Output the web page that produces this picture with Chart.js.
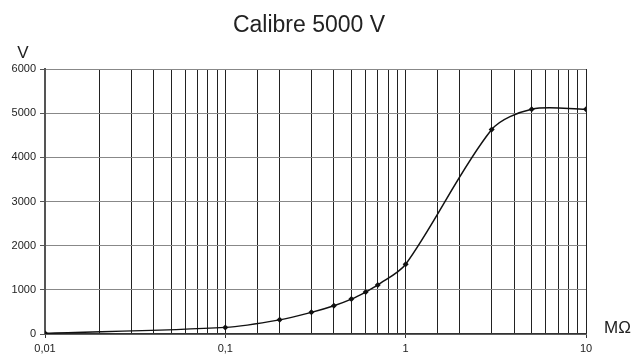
<!DOCTYPE html>
<html>
<head>
<meta charset="utf-8">
<script src="https://cdn.jsdelivr.net/npm/chart.js@4.4.0/dist/chart.umd.min.js"></script>
<style>
  html, body { margin: 0; padding: 0; background: #fff; }
  #wrap { width: 636px; height: 356px; }
</style>
</head>
<body>
<div id="wrap"><canvas id="grafico" width="636" height="356"></canvas></div>
<script>
// valores
var resistencias = [0.01, 0.1, 0.2, 0.3, 0.4, 0.5, 0.6, 0.7, 1, 3, 5, 10];
var tensiones    = [15, 150, 320, 490, 640, 790, 950, 1110, 1580, 4630, 5090, 5090];
var etiquetas_x  = ['0,01', '0,1', '1', '10'];
var titulo       = 'Calibre 5000 V';
var unidad_y     = 'V';
var unidad_x     = 'MΩ';

function es_mayor(v) {
  var l = Math.log10(v);
  return Math.abs(l - Math.round(l)) < 1e-6;
}

// textos fuera del area del grafico
var textos = {
  id: 'textos',
  afterDraw: function (chart) {
    var ctx = chart.ctx;
    ctx.save();
    ctx.fillStyle = '#222';
    ctx.textBaseline = 'alphabetic';
    ctx.textAlign = 'center';
    ctx.font = '23px "Liberation Sans", Arial, sans-serif';
    ctx.fillText(titulo, 309, 32);
    ctx.font = '17px "Liberation Sans", Arial, sans-serif';
    ctx.fillText(unidad_y, 23, 58);
    ctx.textAlign = 'left';
    ctx.fillText(unidad_x, 604, 333);
    ctx.restore();
  }
};

var puntos = resistencias.map(function (r, i) { return { x: r, y: tensiones[i] }; });

var chart_linea = new Chart(document.getElementById('grafico'), {
  type: 'line',
  data: {
    datasets: [{
      data: puntos,
      borderColor: '#111',
      borderWidth: 1.5,
      backgroundColor: '#111',
      pointStyle: 'rectRot',
      pointRadius: 3,
      pointBorderWidth: 0,
      tension: 0.3,
      fill: false
    }]
  },
  options: {
    responsive: false,
    animation: false,
    layout: { padding: { top: 69, right: 50, left: 0, bottom: 0 } },
    plugins: { legend: { display: false }, tooltip: { enabled: false }, title: { display: false } },
    scales: {
      x: {
        type: 'logarithmic',
        min: 0.01,
        max: 10,
        afterFit: function (s) { s.height = 22; },
        border: { color: '#333', width: 1.5 },
        grid: {
          color: '#222',
          lineWidth: 1,
          tickLength: 4,
          tickColor: function (c) { return c.tick && es_mayor(c.tick.value) ? '#333' : 'rgba(0,0,0,0)'; }
        },
        ticks: {
          autoSkip: false,
          maxRotation: 0,
          padding: 4,
          color: '#222',
          font: { family: '"Liberation Sans", Arial, sans-serif', size: 11 },
          callback: function (v) {
            if (!es_mayor(v)) return '';
            var i = Math.round(Math.log10(v)) + 2;
            return etiquetas_x[i];
          }
        }
      },
      y: {
        min: 0,
        max: 6000,
        afterFit: function (s) { s.width = 45; },
        border: { color: '#555', width: 2 },
        grid: { color: '#888', lineWidth: 1, tickLength: 5, tickColor: '#555' },
        ticks: {
          stepSize: 1000,
          padding: 4,
          color: '#222',
          font: { family: '"Liberation Sans", Arial, sans-serif', size: 11 },
          callback: function (v) { return String(v); }
        }
      }
    }
  },
  plugins: [textos]
});
</script>
</body>
</html>
